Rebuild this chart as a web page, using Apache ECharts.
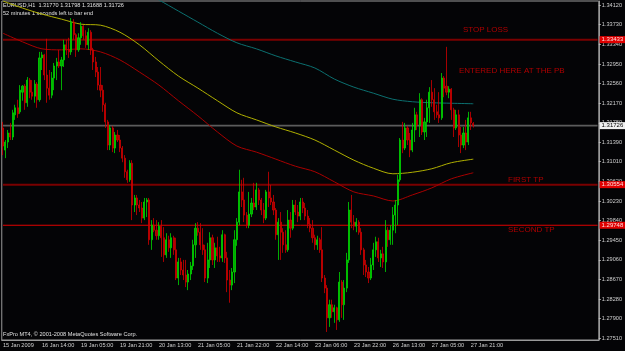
<!DOCTYPE html>
<html>
<head>
<meta charset="utf-8">
<title>EURUSD H1</title>
<script src="https://cdn.jsdelivr.net/npm/echarts@6/dist/echarts.min.js"></script>
<style>
  html, body { margin: 0; padding: 0; background: #040406; }
  #main { width: 625px; height: 351px; }
</style>
</head>
<body>
<div id="main"></div>
<script>
// hourly bars, 15 Jan 2009 -> 27 Jan 2009 22:00
var opens = [1.3168,1.3124,1.3140,1.3158,1.3150,1.3194,1.3208,1.3200,1.3239,1.3251,1.3218,1.3263,1.3239,1.3231,1.3255,1.3224,1.3307,1.3313,1.3273,1.3247,
  1.3233,1.3267,1.3291,1.3299,1.3291,1.3303,1.3333,1.3323,1.3319,1.3378,1.3353,1.3323,1.3347,1.3370,1.3351,1.3333,1.3358,1.3323,1.3299,1.3279,
  1.3253,1.3243,1.3214,1.3180,1.3134,1.3168,1.3128,1.3154,1.3144,1.3128,1.3108,1.3081,1.3065,1.3098,1.3015,1.3029,1.3015,1.3009,1.2989,1.3021,
  1.3025,1.2946,1.2975,1.2965,1.2954,1.2973,1.2950,1.2916,1.2946,1.2930,1.2950,1.2926,1.2870,1.2902,1.2886,1.2876,1.2862,1.2878,1.2894,1.2936,
  1.2969,1.2961,1.2936,1.2926,1.2870,1.2906,1.2950,1.2906,1.2930,1.2914,1.2910,1.2956,1.2910,1.2866,1.2856,1.2882,1.2946,1.2981,1.3041,1.3025,
  1.2995,1.2975,1.2997,1.3019,1.3011,1.3045,1.3025,1.3005,1.2989,1.3041,1.3029,1.3021,1.3005,1.2956,1.2981,1.2961,1.2936,1.2926,1.2985,1.2969,
  1.3015,1.3001,1.2993,1.3021,1.3009,1.2993,1.2977,1.2969,1.2950,1.2936,1.2946,1.2926,1.2870,1.2850,1.2791,1.2817,1.2803,1.2811,1.2787,1.2862,
  1.2817,1.2850,1.2906,1.3005,1.2981,1.2973,1.2981,1.2961,1.2926,1.2896,1.2882,1.2870,1.2896,1.2926,1.2942,1.2910,1.2918,1.2902,1.2965,1.2946,
  1.2965,1.2995,1.3015,1.3065,1.3144,1.3128,1.3168,1.3144,1.3124,1.3164,1.3194,1.3174,1.3224,1.3160,1.3180,1.3208,1.3239,1.3224,1.3200,1.3194,
  1.3188,1.3267,1.3251,1.3239,1.3245,1.3204,1.3168,1.3194,1.3154,1.3134,1.3158,1.3140,1.3188,1.31770];
var highs = [1.3180,1.3144,1.3164,1.3178,1.3204,1.3214,1.3224,1.3253,1.3253,1.3255,1.3269,1.3267,1.3263,1.3263,1.3259,1.3319,1.3319,1.3315,1.3345,1.3283,
  1.3279,1.3297,1.3307,1.3323,1.3309,1.3343,1.3343,1.3347,1.3386,1.3384,1.3356,1.3356,1.3378,1.3372,1.3362,1.3366,1.3362,1.3327,1.3309,1.3289,
  1.3289,1.3253,1.3218,1.3184,1.3174,1.3172,1.3160,1.3164,1.3154,1.3132,1.3114,1.3085,1.3104,1.3104,1.3035,1.3035,1.3025,1.3021,1.3029,1.3029,
  1.3029,1.2985,1.2989,1.2985,1.2981,1.2985,1.2971,1.2959,1.2954,1.2959,1.2954,1.2950,1.2910,1.2910,1.2906,1.2906,1.2886,1.2902,1.2946,1.2979,
  1.2981,1.2979,1.2969,1.2936,1.2940,1.2961,1.2956,1.2940,1.2952,1.2932,1.2965,1.2958,1.2922,1.2886,1.2890,1.2965,1.2989,1.3085,1.3065,1.3069,
  1.3001,1.3041,1.3029,1.3059,1.3059,1.3049,1.3029,1.3019,1.3045,1.3081,1.3055,1.3035,1.3009,1.2989,1.3001,1.2969,1.2965,1.3005,1.3001,1.3025,
  1.3025,1.3015,1.3029,1.3029,1.3019,1.3005,1.2989,1.2985,1.2956,1.2954,1.2950,1.2971,1.2876,1.2856,1.2827,1.2827,1.2817,1.2813,1.2882,1.2866,
  1.2866,1.2920,1.3021,1.3035,1.2995,1.2989,1.2985,1.2969,1.2930,1.2906,1.2892,1.2910,1.2940,1.2952,1.2950,1.2926,1.2932,1.2985,1.2971,1.2975,
  1.3011,1.3025,1.3075,1.3148,1.3180,1.3178,1.3172,1.3158,1.3178,1.3208,1.3200,1.3237,1.3227,1.3188,1.3224,1.3249,1.3263,1.3247,1.3214,1.3239,
  1.3277,1.3271,1.3329,1.3251,1.3247,1.3208,1.3204,1.3204,1.3170,1.3170,1.3184,1.3200,1.3200,1.31798];
var lows = [1.3114,1.3108,1.3128,1.3144,1.3144,1.3184,1.3188,1.3196,1.3222,1.3204,1.3210,1.3227,1.3224,1.3218,1.3208,1.3220,1.3283,1.3263,1.3218,1.3224,
  1.3227,1.3243,1.3263,1.3287,1.3243,1.3289,1.3313,1.3307,1.3313,1.3343,1.3309,1.3319,1.3333,1.3343,1.3327,1.3323,1.3313,1.3283,1.3269,1.3243,
  1.3229,1.3200,1.3168,1.3124,1.3124,1.3120,1.3118,1.3140,1.3120,1.3100,1.3069,1.3059,1.3061,1.2985,1.3001,1.2995,1.3001,1.2979,1.2985,1.2991,
  1.2936,1.2926,1.2961,1.2946,1.2946,1.2912,1.2902,1.2910,1.2922,1.2910,1.2916,1.2866,1.2856,1.2876,1.2866,1.2852,1.2846,1.2866,1.2886,1.2910,
  1.2954,1.2926,1.2916,1.2862,1.2860,1.2890,1.2896,1.2890,1.2902,1.2902,1.2902,1.2900,1.2842,1.2821,1.2846,1.2860,1.2934,1.2975,1.3011,1.2981,
  1.2969,1.2969,1.2991,1.3005,1.3005,1.3015,1.2995,1.2979,1.2985,1.3011,1.3015,1.2995,1.2946,1.2906,1.2906,1.2920,1.2920,1.2922,1.2950,1.2965,
  1.2995,1.2981,1.2985,1.2999,1.2985,1.2969,1.2961,1.2940,1.2926,1.2926,1.2920,1.2862,1.2840,1.2763,1.2773,1.2791,1.2781,1.2767,1.2783,1.2791,
  1.2787,1.2842,1.2900,1.2969,1.2965,1.2961,1.2956,1.2916,1.2876,1.2872,1.2860,1.2866,1.2886,1.2912,1.2902,1.2892,1.2890,1.2882,1.2932,1.2936,
  1.2936,1.2959,1.2975,1.3061,1.3118,1.3124,1.3134,1.3110,1.3120,1.3140,1.3164,1.3150,1.3154,1.3144,1.3150,1.3178,1.3210,1.3184,1.3188,1.3178,
  1.3184,1.3229,1.3233,1.3227,1.3184,1.3150,1.3164,1.3130,1.3118,1.3128,1.3124,1.3134,1.3164,1.31688];
var closes = [1.3132,1.3140,1.3158,1.3150,1.3198,1.3208,1.3196,1.3243,1.3251,1.3218,1.3263,1.3239,1.3231,1.3255,1.3224,1.3307,1.3313,1.3273,1.3247,1.3233,
  1.3267,1.3291,1.3299,1.3291,1.3303,1.3333,1.3323,1.3319,1.3378,1.3353,1.3323,1.3347,1.3370,1.3351,1.3333,1.3358,1.3323,1.3299,1.3279,1.3253,
  1.3243,1.3214,1.3180,1.3134,1.3168,1.3128,1.3154,1.3144,1.3128,1.3108,1.3081,1.3065,1.3098,1.3015,1.3029,1.3015,1.3009,1.2989,1.3021,1.3025,
  1.2946,1.2975,1.2965,1.2954,1.2973,1.2950,1.2916,1.2946,1.2930,1.2950,1.2926,1.2870,1.2902,1.2886,1.2876,1.2862,1.2878,1.2894,1.2936,1.2969,
  1.2961,1.2936,1.2926,1.2870,1.2906,1.2950,1.2906,1.2930,1.2914,1.2910,1.2956,1.2910,1.2866,1.2856,1.2882,1.2946,1.2981,1.3041,1.3025,1.2995,
  1.2975,1.2997,1.3019,1.3011,1.3045,1.3025,1.3005,1.2989,1.3041,1.3029,1.3021,1.3005,1.2956,1.2981,1.2961,1.2936,1.2926,1.2985,1.2969,1.3015,
  1.3001,1.2993,1.3021,1.3009,1.2993,1.2977,1.2969,1.2950,1.2936,1.2946,1.2926,1.2870,1.2850,1.2791,1.2817,1.2803,1.2811,1.2787,1.2862,1.2817,
  1.2850,1.2906,1.3005,1.2981,1.2973,1.2981,1.2961,1.2926,1.2896,1.2882,1.2870,1.2896,1.2926,1.2942,1.2910,1.2918,1.2902,1.2965,1.2946,1.2965,
  1.2995,1.3015,1.3065,1.3144,1.3128,1.3168,1.3144,1.3124,1.3164,1.3194,1.3174,1.3224,1.3160,1.3180,1.3208,1.3239,1.3224,1.3200,1.3194,1.3188,
  1.3267,1.3247,1.3239,1.3245,1.3204,1.3168,1.3194,1.3154,1.3134,1.3158,1.3140,1.3188,1.3178,1.31726];

// moving averages, read every 8 bars: [bar index, value]
var maTeal = [[48,1.3466],[56,1.3442],[64,1.3422],[72,1.3400],[80,1.3378],[88,1.3356],[96,1.3337],[104,1.3325],[112,1.3311],[120,1.3299],
  [128,1.3287],[136,1.3265],[144,1.3249],[152,1.3237],[160,1.3225],[168,1.3220],[176,1.3218],[184,1.3217],[193,1.3216]];
var maYellow = [[0,1.3420],[8,1.3406],[16,1.3394],[24,1.3384],[32,1.3374],[40,1.3372],[48,1.3358],[56,1.3333],[64,1.3301],[72,1.3271],
  [80,1.3247],[88,1.3222],[96,1.3198],[104,1.3184],[112,1.3170],[120,1.3158],[128,1.3144],[136,1.3124],[144,1.3104],[152,1.3088],
  [160,1.3077],[168,1.3080],[176,1.3087],[184,1.3099],[193,1.3106]];
var maRed = [[0,1.3356],[8,1.3339],[16,1.3325],[24,1.3323],[32,1.3325],[40,1.3319],[48,1.3303],[56,1.3279],[64,1.3253],[72,1.3222],
  [80,1.3192],[88,1.3160],[96,1.3132],[104,1.3120],[112,1.3106],[120,1.3092],[128,1.3081],[136,1.3061],[144,1.3041],[152,1.3033],
  [160,1.3023],[168,1.3035],[176,1.3049],[184,1.3067],[193,1.3079]];

var priceTicks = [1.34120,1.33730,1.33340,1.32950,1.32560,1.32170,1.31780,1.31390,1.31010,1.30620,1.30230,1.29840,1.29450,1.29060,1.28670,1.28280,1.27900,1.27510];
var timeLabels = ['15 Jan 2009','16 Jan 14:00','19 Jan 05:00','19 Jan 21:00','20 Jan 13:00','21 Jan 05:00','21 Jan 22:00',
  '22 Jan 14:00','23 Jan 06:00','23 Jan 22:00','26 Jan 13:00','27 Jan 05:00','27 Jan 21:00'];

var stopLoss = 1.33433, lastPrice = 1.31726, firstTP = 1.30554, secondTP = 1.29748;

var slots = 245; // chart shift leaves empty space on the right
var cats = [];
for (var i = 0; i < slots; i++) cats.push(i);
var candles = opens.map(function (o, i) { return [o, closes[i], lows[i], highs[i]]; });

var font = 'Liberation Sans';
// a horizontal price level across the whole chart, with its price box on the axis
function level(v, col, w, bg, txt) {
  return {
    type: 'line', data: [[0, v], [slots - 1, v]], z: 1, silent: true,
    showSymbol: false, clip: false,
    lineStyle: { color: col, width: w },
    endLabel: { show: true, distance: 2, formatter: v.toFixed(5), backgroundColor: bg, color: txt,
      fontSize: 6, fontFamily: font, padding: [1, 2, 0, 2] }
  };
}

var myChart = echarts.init(document.getElementById('main'));
var option = {
  backgroundColor: '#040406',
  animation: false,
  grid: { left: 1, right: 20, top: 1, bottom: 11, show: true, borderColor: '#9a9a9a', borderWidth: 1, backgroundColor: 'transparent' },
  xAxis: {
    type: 'category', data: cats, boundaryGap: true,
    axisLine: { lineStyle: { color: '#9a9a9a' } },
    axisTick: { interval: 15, alignWithLabel: true, length: 2, lineStyle: { color: '#bbbbbb' } },
    axisLabel: { interval: 15, color: '#d0d0d0', fontSize: 5.6, fontFamily: font, margin: 2, align: 'left',
      formatter: function (v, idx) { return timeLabels[idx / 16] || ''; } },
    splitLine: { show: false }
  },
  yAxis: {
    type: 'value', position: 'right', scale: true, min: 1.2747, max: 1.3420,
    axisLine: { show: true, lineStyle: { color: '#9a9a9a' } },
    axisTick: { show: true, length: 2, customValues: priceTicks, lineStyle: { color: '#bbbbbb' } },
    axisLabel: { customValues: priceTicks, color: '#d0d0d0', fontSize: 5.6, fontFamily: font, margin: 3,
      formatter: function (v) { return v.toFixed(5); } },
    splitLine: { show: false }
  },
  series: [
    level(stopLoss, '#7a0000', 2, '#e00000', '#ffdede'),
    level(lastPrice, '#5c5c5c', 1.6, '#f0f0f0', '#000000'),
    level(firstTP, '#7a0000', 2, '#e00000', '#ffdede'),
    level(secondTP, '#e00000', 1, '#e00000', '#ffdede'),
    { type: 'line', data: maTeal, smooth: 0.3, showSymbol: false, clip: true, lineStyle: { color: '#0c7070', width: 1 }, z: 2 },
    { type: 'line', data: maYellow, smooth: 0.3, showSymbol: false, clip: true, lineStyle: { color: '#b0b000', width: 1 }, z: 2 },
    { type: 'line', data: maRed, smooth: 0.3, showSymbol: false, clip: true, lineStyle: { color: '#a80000', width: 1 }, z: 2 },
    {
      type: 'candlestick', data: candles, barWidth: 1.6, z: 3,
      itemStyle: { color: '#00a800', color0: '#a00000', borderColor: '#00d800', borderColor0: '#d00000', borderWidth: 0.8 }
    }
  ],
  graphic: [
    { type: 'text', left: 3, top: 2, style: { text: 'EURUSD,H1  1.31770 1.31798 1.31688 1.31726', fill: '#e0e0e0', fontSize: 5.6, fontFamily: font } },
    { type: 'text', left: 3, top: 10, style: { text: '52 minutes 1 seconds left to bar end', fill: '#e0e0e0', fontSize: 5.6, fontFamily: font } },
    { type: 'text', left: 3, top: 331, style: { text: 'FxPro MT4, © 2001-2008 MetaQuotes Software Corp.', fill: '#e0e0e0', fontSize: 5.6, fontFamily: font } },
    { type: 'text', left: 463, top: 26, style: { text: 'STOP LOSS', fill: '#b00000', fontSize: 8, fontFamily: font } },
    { type: 'text', left: 459, top: 67, style: { text: 'ENTERED HERE AT THE PB', fill: '#b00000', fontSize: 8, fontFamily: font } },
    { type: 'text', left: 508, top: 176, style: { text: 'FIRST TP', fill: '#b00000', fontSize: 8, fontFamily: font } },
    { type: 'text', left: 508, top: 226, style: { text: 'SECOND TP', fill: '#b00000', fontSize: 8, fontFamily: font } }
  ]
};
myChart.setOption(option);
</script>
</body>
</html>
